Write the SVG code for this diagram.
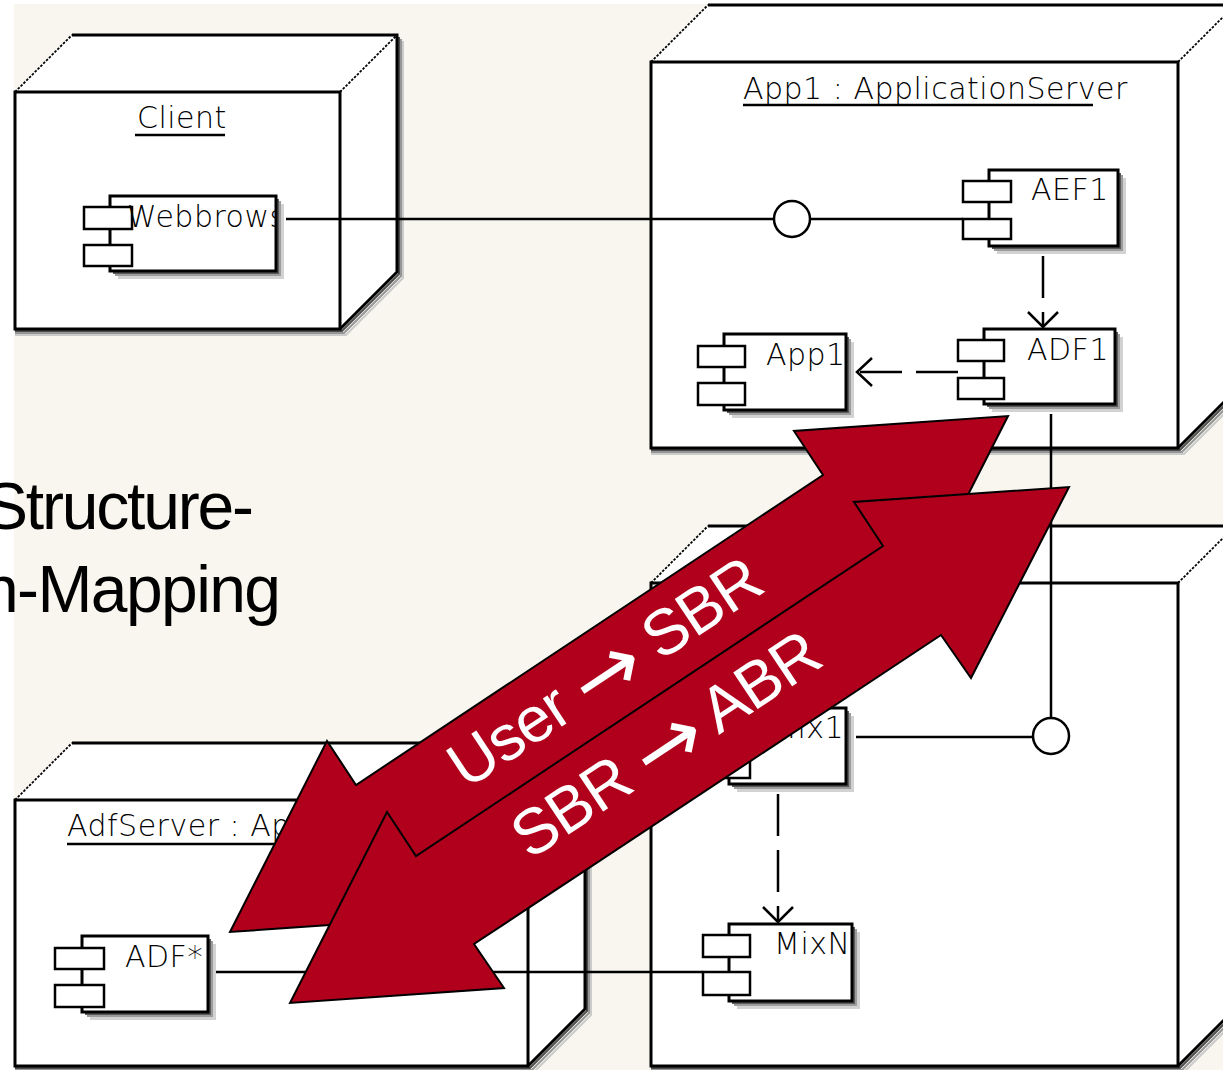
<svg xmlns="http://www.w3.org/2000/svg" width="1223" height="1070" viewBox="0 0 1223 1070">
  <defs>
    <style>
      .face{fill:#fff;stroke:none}
      .edge{fill:none;stroke:#000;stroke-width:3}
      .thin{fill:none;stroke:#000;stroke-width:1.8;stroke-dasharray:2.5 1.5}
      .s1{fill:none;stroke:#4d4d4d;stroke-width:2}
      .s2{fill:none;stroke:#959595;stroke-width:2}
      .s3{fill:none;stroke:#cbcbcb;stroke-width:2}
      .uml{font-family:"DejaVu Sans","Liberation Sans",sans-serif;font-size:30px;font-weight:200;letter-spacing:0.5px;fill:#000}
      .ul{stroke:#000;stroke-width:2.5}
      .box{fill:#fff;stroke:#000;stroke-width:3}
      .port{fill:#fff;stroke:#000;stroke-width:2.5}
      .c1{fill:#5a5a5a}
      .c2{fill:#9c9c9c}
      .c3{fill:#d2d2d2}
      .wire{fill:none;stroke:#000;stroke-width:2.5}
      .dash{stroke-dasharray:42 14}
      .ball{fill:#fff;stroke:#000;stroke-width:2.5}
      .big{fill:#b1001c;stroke:#000;stroke-width:2;stroke-linejoin:miter}
      .lbl{font-family:"Liberation Sans",Arial,sans-serif;font-size:64px;fill:#fff}
      .arr{font-family:"DejaVu Sans",sans-serif;font-size:84px}
      .side{font-family:"Liberation Sans",Arial,sans-serif;font-size:66px;fill:#000}
    </style>
    <clipPath id="clipWeb"><rect x="110" y="196" width="166" height="75"/></clipPath>
    <clipPath id="clipApp"><rect x="724" y="334" width="122" height="76"/></clipPath>
  </defs>

  <!-- page -->
  <rect x="0" y="0" width="1223" height="1070" fill="#fff"/>
  <rect x="14" y="4" width="1209" height="1066" fill="#f8f6ee"/>

  <!-- side title (runs off the left edge of the page) -->
  <text class="side" x="-16" y="529" textLength="270" lengthAdjust="spacing">Structure-</text>
  <text class="side" x="-18" y="612" textLength="299" lengthAdjust="spacing">n-Mapping</text>

  <!-- deployment node: Client -->
  <g id="node-client">
    <path class="s3" d="M15,335 H346 L403,278 V41"/>
    <path class="s2" d="M15,333 H344 L401,276 V39"/>
    <path class="s1" d="M15,331 H342 L399,274 V37"/>
    <path class="face" d="M15,92 L72,35 H397 V272 L340,329 H15 Z"/>
    <rect class="edge" x="15" y="92" width="325" height="237"/>
    <path class="edge" d="M72,35 H397 V272 L340,329"/>
    <path class="thin" d="M15,92 L72,35 M340,92 L397,35"/>
    <text class="uml" x="137" y="128">Client</text>
    <line class="ul" x1="135" y1="135" x2="225" y2="135"/>
  </g>

  <!-- deployment node: App1 -->
  <g id="node-app1">
    <path class="s3" d="M651,454 H1184 L1241,397"/>
    <path class="s2" d="M651,452 H1182 L1239,395"/>
    <path class="s1" d="M651,450 H1180 L1237,393"/>
    <path class="face" d="M651,62 L708,5 H1235 V391 L1178,448 H651 Z"/>
    <rect class="edge" x="651" y="62" width="527" height="386"/>
    <path class="edge" d="M708,5 H1235 V391 L1178,448"/>
    <path class="thin" d="M651,62 L708,5 M1178,62 L1235,5"/>
    <text class="uml" x="743" y="99">App1 : ApplicationServer</text>
    <line class="ul" x1="743" y1="105" x2="1093" y2="105"/>
  </g>

  <!-- deployment node: mixer server -->
  <g id="node-mix">
    <path class="s3" d="M651,1072 H1184 L1241,1015"/>
    <path class="s2" d="M651,1070 H1182 L1239,1013"/>
    <path class="s1" d="M651,1068 H1180 L1237,1011"/>
    <path class="face" d="M651,583 L708,526 H1235 V1009 L1178,1066 H651 Z"/>
    <rect class="edge" x="651" y="583" width="527" height="483"/>
    <path class="edge" d="M708,526 H1235 V1009 L1178,1066"/>
    <path class="thin" d="M651,583 L708,526 M1178,583 L1235,526"/>
  </g>

  <!-- deployment node: AdfServer -->
  <g id="node-adfserver">
    <path class="s3" d="M15,1072 H534 L591,1015 V749"/>
    <path class="s2" d="M15,1070 H532 L589,1013 V747"/>
    <path class="s1" d="M15,1068 H530 L587,1011 V745"/>
    <path class="face" d="M15,800 L72,743 H585 V1009 L528,1066 H15 Z"/>
    <rect class="edge" x="15" y="800" width="513" height="266"/>
    <path class="edge" d="M72,743 H585 V1009 L528,1066"/>
    <path class="thin" d="M15,800 L72,743 M528,800 L585,743"/>
    <text class="uml" x="67" y="836">AdfServer : Ap</text>
    <line class="ul" x1="67" y1="844" x2="400" y2="844"/>
  </g>

  <!-- components -->
  <g id="comp-webbrowser">
    <rect class="c3" x="118" y="204" width="166" height="75"/>
    <rect class="c2" x="115" y="201" width="166" height="75"/>
    <rect class="c1" x="113" y="199" width="166" height="75"/>
    <rect class="box" x="110" y="196" width="166" height="75"/>
    <rect class="port" x="84" y="207" width="48" height="22"/>
    <rect class="port" x="84" y="245" width="48" height="21"/>
    <text class="uml" x="127" y="227" clip-path="url(#clipWeb)">Webbrows</text>
  </g>

  <g id="comp-aef1">
    <rect class="c3" x="997" y="178" width="129" height="76"/>
    <rect class="c2" x="994" y="175" width="129" height="76"/>
    <rect class="c1" x="992" y="173" width="129" height="76"/>
    <rect class="box" x="989" y="170" width="129" height="76"/>
    <rect class="port" x="963" y="181" width="48" height="21"/>
    <rect class="port" x="963" y="219" width="48" height="20"/>
    <text class="uml" x="1031" y="200">AEF1</text>
  </g>

  <g id="comp-adf1">
    <rect class="c3" x="992" y="337" width="131" height="75"/>
    <rect class="c2" x="989" y="334" width="131" height="75"/>
    <rect class="c1" x="987" y="332" width="131" height="75"/>
    <rect class="box" x="984" y="329" width="131" height="75"/>
    <rect class="port" x="958" y="340" width="46" height="21"/>
    <rect class="port" x="958" y="378" width="46" height="21"/>
    <text class="uml" x="1027" y="360">ADF1</text>
  </g>

  <g id="comp-app1">
    <rect class="c3" x="732" y="342" width="122" height="76"/>
    <rect class="c2" x="729" y="339" width="122" height="76"/>
    <rect class="c1" x="727" y="337" width="122" height="76"/>
    <rect class="box" x="724" y="334" width="122" height="76"/>
    <rect class="port" x="698" y="346" width="47" height="21"/>
    <rect class="port" x="698" y="383" width="47" height="22"/>
    <text class="uml" x="766" y="365" clip-path="url(#clipApp)">App1</text>
  </g>

  <g id="comp-mix1">
    <rect class="c3" x="737" y="716" width="117" height="76"/>
    <rect class="c2" x="734" y="713" width="117" height="76"/>
    <rect class="c1" x="732" y="711" width="117" height="76"/>
    <rect class="box" x="729" y="708" width="117" height="76"/>
    <rect class="port" x="703" y="719" width="47" height="22"/>
    <rect class="port" x="703" y="756" width="47" height="22"/>
    <text class="uml" x="771" y="738">Mix1</text>
  </g>

  <g id="comp-mixn">
    <rect class="c3" x="737" y="932" width="123" height="77"/>
    <rect class="c2" x="734" y="929" width="123" height="77"/>
    <rect class="c1" x="732" y="927" width="123" height="77"/>
    <rect class="box" x="729" y="924" width="123" height="77"/>
    <rect class="port" x="703" y="935" width="47" height="22"/>
    <rect class="port" x="703" y="972" width="47" height="23"/>
    <text class="uml" x="774" y="954">MixN</text>
  </g>

  <g id="comp-adfstar">
    <rect class="c3" x="90" y="944" width="126" height="76"/>
    <rect class="c2" x="87" y="941" width="126" height="76"/>
    <rect class="c1" x="85" y="939" width="126" height="76"/>
    <rect class="box" x="82" y="936" width="126" height="76"/>
    <rect class="port" x="55" y="948" width="49" height="21"/>
    <rect class="port" x="55" y="985" width="49" height="22"/>
    <text class="uml" x="125" y="967">ADF*</text>
  </g>

  <!-- connectors -->
  <g id="connectors">
    <line class="wire" x1="286" y1="219" x2="774" y2="219"/>
    <circle class="ball" cx="792" cy="219" r="18"/>
    <line class="wire" x1="810" y1="219" x2="963" y2="219"/>

    <line class="wire dash" x1="1043" y1="256" x2="1043" y2="327"/>
    <polyline class="wire" points="1028,312 1043,327 1058,312"/>

    <line class="wire dash" x1="958" y1="372" x2="857" y2="372"/>
    <polyline class="wire" points="872,358 857,372 872,386"/>

    <line class="wire" x1="1051" y1="414" x2="1051" y2="718"/>
    <circle class="ball" cx="1051" cy="736" r="18"/>
    <line class="wire" x1="1033" y1="737" x2="856" y2="737"/>

    <line class="wire dash" x1="778" y1="794" x2="778" y2="922"/>
    <polyline class="wire" points="763,907 778,922 793,907"/>

    <line class="wire" x1="216" y1="972" x2="703" y2="972"/>
  </g>

  <!-- mapping arrows -->
  <g id="arrow-user-sbr">
    <path class="big" d="M230,932 L327,741 L356,785 L823,475 L794,431 L1008,416 L911,607 L881,564 L414,873 L444,917 Z"/>
    <text class="lbl" x="617" y="690" text-anchor="middle" textLength="362" lengthAdjust="spacing" transform="rotate(-33.57 617 690)">User <tspan class="arr" dy="8">→</tspan><tspan dy="-8"> SBR</tspan></text>
  </g>
  <g id="arrow-sbr-abr">
    <path class="big" d="M290,1003 L387,812 L416,856 L883,546 L854,502 L1069,487 L971,678 L941,635 L474,944 L504,988 Z"/>
    <text class="lbl" x="678" y="762" text-anchor="middle" textLength="356" lengthAdjust="spacing" transform="rotate(-33.57 678 762)">SBR <tspan class="arr" dy="8">→</tspan><tspan dy="-8"> ABR</tspan></text>
  </g>
</svg>
